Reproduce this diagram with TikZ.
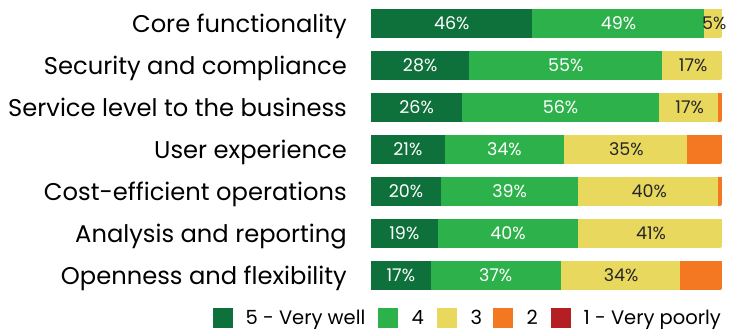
\documentclass[tikz,border=0pt]{standalone}
\usepackage{fontspec}
\setmainfont{Poppins}
\usetikzlibrary{calc}
\usetikzlibrary{positioning}

\definecolor{verywell}{HTML}{0E703A}
\definecolor{four}{HTML}{2DB14B}
\definecolor{three}{HTML}{E9D85E}
\definecolor{two}{HTML}{F47721}
\definecolor{verypoorly}{HTML}{B41F24}

\tikzset{
    catlabel/.style={anchor=base east, inner sep=0pt, font=\fontsize{24.2}{28}\selectfont},
    pctlabel/.style={inner sep=0pt, font=\fontsize{17.5}{20}\selectfont},
    keybox/.style={minimum size=20pt, inner sep=0pt, anchor=west},
    keylabel/.style={anchor=west, inner sep=0pt, text height=15pt, text depth=2pt, font=\fontsize{19.5}{23}\selectfont}
}

\begin{document}
\begin{tikzpicture}[x=1pt, y=-1pt]

        \useasboundingbox (0,0) rectangle (729,330);

        \def\barlen{3.51}
        \def\barh{14.5}

        % one row per category: 5, 4, 3, 2
        \foreach \lbl/\va/\vb/\vc/\vd [count=\i from 0] in {
            Core functionality/46/49/5/0,
            Security and compliance/28/55/17/0,
            Service level to the business/26/56/17/1,
            User experience/21/34/35/10,
            Cost-efficient operations/20/39/40/1,
            Analysis and reporting/19/40/41/0,
            Openness and flexibility/17/37/34/12}
        {
            \pgfmathsetmacro{\yc}{23.5+42*\i}
            \pgfmathsetmacro{\xa}{371}
            \pgfmathsetmacro{\xb}{\xa+\barlen*\va}
            \pgfmathsetmacro{\xc}{\xb+\barlen*\vb}
            \pgfmathsetmacro{\xd}{\xc+\barlen*\vc}
            \pgfmathsetmacro{\xe}{\xd+\barlen*\vd}

            \node[catlabel] (cat\i) at (347,\yc+8.5) {\lbl};

            \begin{scope}
                \clip (\xa,\yc-\barh) -- (722,\yc-\barh) [rounded corners=2pt] -- (722,\yc+\barh) [sharp corners] -- (\xa,\yc+\barh) -- cycle;
                \path[fill=verywell] (\xa,\yc-\barh) rectangle (\xb,\yc+\barh);
                \path[fill=four] (\xb,\yc-\barh) rectangle (\xc,\yc+\barh);
                \path[fill=three] (\xc,\yc-\barh) rectangle (\xd,\yc+\barh);
                \path[fill=two] (\xd,\yc-\barh) rectangle (\xe,\yc+\barh);
                \path[fill=verypoorly] (\xe,\yc-\barh) rectangle (722,\yc+\barh);
            \end{scope}

            \node[pctlabel, white] (pa\i) at ({(\xa+\xb)/2},\yc) {\va\%};
            \node[pctlabel, white] (pb\i) at ({(\xb+\xc)/2},\yc) {\vb\%};
            \node[pctlabel, black!85] (pc\i) at ({(\xc+\xd)/2+1},\yc) {\vc\%};
        }

        % legend
        \node[keybox, fill=verywell] (key5) at (213,317.5) {};
        \node[keylabel, right=12pt of key5] (txt5) {5 - Very well};
        \node[keybox, fill=four] (key4) at (378,317.5) {};
        \node[keylabel, right=13pt of key4] (txt4) {4};
        \node[keybox, fill=three] (key3) at (437,317.5) {};
        \node[keylabel, right=13pt of key3] (txt3) {3};
        \node[keybox, fill=two] (key2) at (493,317.5) {};
        \node[keylabel, right=13pt of key2] (txt2) {2};
        \node[keybox, fill=verypoorly] (key1) at (551,317.5) {};
        \node[keylabel, right=12pt of key1] (txt1) {1 - Very poorly};

    \end{tikzpicture}
\end{document}
